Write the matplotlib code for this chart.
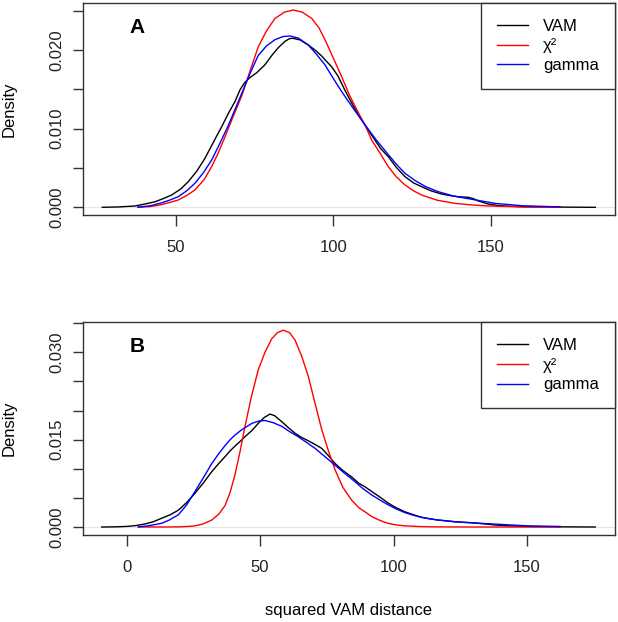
import matplotlib
matplotlib.use("Agg")
import matplotlib.pyplot as plt

plt.rcParams['font.family'] = ['Liberation Sans', 'DejaVu Sans']
plt.rcParams['font.size'] = 12

# Panel A - density curves
vam_a_x = [26.7, 32, 37.1, 40, 43.4, 46, 48.7, 51.5, 54, 56.7, 59.3, 62, 64.6, 66.8, 68.8,
           70.5, 72, 73.6, 75.7, 78.3, 80.5, 82.6, 84.7, 86.2, 87.3, 89.5, 92.1, 94.2, 96.3,
           98, 99.5, 101.5, 103.7, 106.5, 108.5, 110.1, 113, 115, 117.5, 120, 122.8, 125.5,
           128.1, 131, 134.4, 137, 139.7, 142.9, 144.5, 146.1, 149.2, 152, 155, 160, 165,
           175, 183.2]
vam_a_y = [0, 0.00005, 0.00017, 0.0004, 0.0007, 0.0011, 0.00156, 0.0023, 0.00326, 0.0046,
           0.00623, 0.0083, 0.01025, 0.012, 0.01343, 0.015, 0.0159, 0.0165, 0.0171, 0.0181,
           0.0193, 0.0203, 0.0211, 0.02145, 0.02148, 0.02127, 0.02063, 0.02, 0.01925, 0.0185,
           0.01787, 0.0167, 0.0149, 0.0128, 0.0115, 0.01046, 0.0087, 0.0075, 0.00643, 0.0051,
           0.00389, 0.0031, 0.00262, 0.0021, 0.00169, 0.0015, 0.00135, 0.00127, 0.0011,
           0.0008, 0.00042, 0.00025, 0.00015, 0.00008, 0.00005, 0.00002, 0]

chi_a_x = [38, 42, 45, 48, 50.8, 53.5, 56.1, 59, 61.4, 63.5, 65.7, 68, 71, 73.5, 76.2, 78.8,
           81.5, 84.5, 87.3, 90.2, 93.2, 95.5, 97.4, 100, 102.7, 105, 107.5, 110.1, 112.2,
           115, 117.5, 120, 122.8, 125.5, 128.1, 133, 138.7, 144, 149.2, 160, 172]
chi_a_y = [0, 0.0001, 0.0003, 0.0006, 0.00093, 0.0015, 0.00221, 0.0035, 0.00516, 0.0069,
           0.009, 0.0113, 0.0142, 0.0172, 0.0204, 0.0224, 0.024, 0.0248, 0.02508, 0.0248,
           0.024, 0.0228, 0.0213, 0.019, 0.0166, 0.0144, 0.0124, 0.01046, 0.00856, 0.0068,
           0.00516, 0.0039, 0.00284, 0.0021, 0.00156, 0.0009, 0.0005, 0.0003, 0.00017,
           0.00005, 0.00001]

gam_a_x = [38, 42, 45.6, 48, 50.8, 53.5, 56.1, 58.8, 61.4, 64, 66.7, 69, 71.5, 73.8, 76.2,
           78.8, 81.5, 84, 86.3, 89, 92.1, 94.8, 97.4, 100, 102.7, 106.5, 110.1, 113.8,
           117.5, 120, 122.8, 126, 129.5, 133.4, 138.5, 144, 151.4, 160, 172]
gam_a_y = [0.00002, 0.0002, 0.00058, 0.0009, 0.00135, 0.0021, 0.00305, 0.0044, 0.006, 0.0081,
           0.0104, 0.0126, 0.015, 0.0172, 0.0193, 0.0205, 0.0213, 0.0217, 0.02178, 0.0215,
           0.02063, 0.0194, 0.0181, 0.0164, 0.0147, 0.0125, 0.01046, 0.0085, 0.0067, 0.0055,
           0.00432, 0.0034, 0.0026, 0.00198, 0.0014, 0.00102, 0.0005, 0.0002, 0.00005]

# Panel B
vam_b_x = [-9.3, -4, 0, 3.5, 6.9, 10, 13.1, 16.3, 19.4, 22.5, 25.6, 28.8, 31.9, 34.5, 36.9,
           38.8, 40.6, 42.5, 44.3, 47, 49.3, 51.5, 53.7, 55.5, 58.1, 60.5, 63.1, 65.5, 68.1,
           70.5, 73.1, 75.5, 78.1, 81, 84.3, 87, 89.3, 91.8, 95, 98, 101, 104.3, 107.5,
           110.5, 113.5, 116.7, 120, 123, 126, 129.2, 133, 138, 144, 150, 162, 175.5]
vam_b_y = [0, 0.00003, 0.0001, 0.00025, 0.00052, 0.0009, 0.0015, 0.0021, 0.0029, 0.0042,
           0.0058, 0.0076, 0.0095, 0.0109, 0.0121, 0.0131, 0.0139, 0.0147, 0.0155, 0.0166,
           0.0178, 0.0188, 0.0194, 0.0191, 0.0181, 0.0171, 0.0161, 0.0154, 0.0148, 0.0142,
           0.0135, 0.0123, 0.0109, 0.0097, 0.0086, 0.0075, 0.0069, 0.0061, 0.0051, 0.0041,
           0.0033, 0.0026, 0.0021, 0.00166, 0.0014, 0.0012, 0.00105, 0.0009, 0.0008,
           0.00074, 0.00058, 0.00034, 0.00018, 0.0001, 0.00003, 0]

chi_b_x = [4.4, 15, 20, 23, 25.6, 28.5, 31.9, 34.5, 36.9, 38.8, 40.6, 42.5, 44.3, 46.8, 49.3,
           51.8, 54.3, 56.5, 58.7, 61, 63.1, 65.6, 68.1, 70.6, 73.1, 75.5, 78.1, 81, 84.3,
           87, 89.3, 91.8, 95, 98, 101, 104.3, 110, 115, 130, 145, 162.3]
chi_b_y = [0, 0.00001, 0.00003, 0.0001, 0.0002, 0.0005, 0.0012, 0.0022, 0.0037, 0.006,
           0.009, 0.013, 0.0172, 0.0225, 0.027, 0.03, 0.0323, 0.0334, 0.0338, 0.0334, 0.0321,
           0.0293, 0.0258, 0.0212, 0.0167, 0.0132, 0.0098, 0.0068, 0.0046, 0.0033, 0.0026,
           0.0018, 0.0011, 0.00063, 0.00035, 0.0002, 0.00007, 0.00003, 0, 0, 0]

gam_b_x = [4.4, 8, 13.1, 16, 19.4, 22.5, 25.6, 28.8, 31.9, 34.5, 36.9, 38.8, 40.6, 43.1,
           46.9, 49.5, 51.8, 55, 58.1, 61, 64.3, 67.5, 70.6, 74.5, 78.1, 82, 85.5, 88.5,
           91.8, 95, 98, 101, 104.3, 107.5, 110.5, 116.5, 123, 130, 138, 144, 150, 156, 162.3]
gam_b_y = [0.00002, 0.0002, 0.00063, 0.0012, 0.0021, 0.0038, 0.0061, 0.0085, 0.0109, 0.0126,
           0.014, 0.015, 0.0158, 0.0167, 0.0178, 0.0182, 0.0183, 0.0179, 0.0173, 0.0164,
           0.0155, 0.0145, 0.0135, 0.012, 0.0106, 0.0091, 0.0078, 0.0066, 0.0055, 0.0046,
           0.0038, 0.0031, 0.00246, 0.002, 0.00166, 0.0012, 0.0009, 0.0007, 0.0005, 0.00035,
           0.0002, 0.00014, 0.0001]

panels = [
    dict(tag="A", vam=(vam_a_x, vam_a_y), chi=(chi_a_x, chi_a_y), gam=(gam_a_x, gam_a_y),
         xlim=(20.57, 189.46), ylim=(-0.00098, 0.02597),
         xticks=[50, 100, 150], yticks=[0, 0.005, 0.010, 0.015, 0.020, 0.025],
         ylabels=["0.000", "", "0.010", "", "0.020", ""],
         pos=[0.1343, 0.6543, 0.8608, 0.3409]),
    dict(tag="B", vam=(vam_b_x, vam_b_y), chi=(chi_b_x, chi_b_y), gam=(gam_b_x, gam_b_y),
         xlim=(-16.33, 182.9), ylim=(-0.00137, 0.03516),
         xticks=[0, 50, 100, 150], yticks=[0, 0.005, 0.010, 0.015, 0.020, 0.025, 0.030, 0.035],
         ylabels=["0.000", "", "", "0.015", "", "", "0.030", ""],
         pos=[0.1343, 0.1399, 0.8608, 0.3419]),
]

fig = plt.figure(figsize=(6.18, 6.22), dpi=100)

for p in panels:
    ax = fig.add_axes(p["pos"])
    ax.axhline(0, color="#e4e4e4", lw=0.8, zorder=0)
    ax.plot(*p["vam"], color="black", lw=1.0, label="VAM")
    ax.plot(*p["chi"], color="#ff0000", lw=1.0, label="χ²")
    ax.plot(*p["gam"], color="#0000ff", lw=1.0, label="gamma")
    ax.set_xlim(p["xlim"])
    ax.set_ylim(p["ylim"])
    ax.set_xticks(p["xticks"])
    ax.set_yticks(p["yticks"])
    ax.set_yticklabels(p["ylabels"], rotation=90, va="center")
    ax.tick_params(axis="x", length=8, width=1, pad=10, colors="#333333", labelcolor="#222222")
    ax.tick_params(axis="y", length=7.5, width=1, pad=6, colors="#333333", labelcolor="#222222")
    for s in ax.spines.values():
        s.set_color("#333333")
        s.set_linewidth(1.0)
    ax.text(0.1024, 0.885, p["tag"], transform=ax.transAxes, fontsize=15,
            fontweight="bold", ha="center", va="center")
    ax.set_ylabel("Density")
    ax.yaxis.set_label_coords(-0.139, 0.5)
    ax.yaxis.label.set_va("center")
    leg = ax.legend(loc="upper right", borderaxespad=0, fancybox=False, framealpha=1,
                    edgecolor="#333333", handlelength=1.9, handletextpad=0.9,
                    labelspacing=0.28, borderpad=0.95)
    leg.get_frame().set_linewidth(1.0)
    last = ax

last.set_xlabel("squared VAM distance")
last.xaxis.set_label_coords(0.5, -0.353)
last.xaxis.label.set_va("center")

fig.savefig("out.png", dpi=100)
